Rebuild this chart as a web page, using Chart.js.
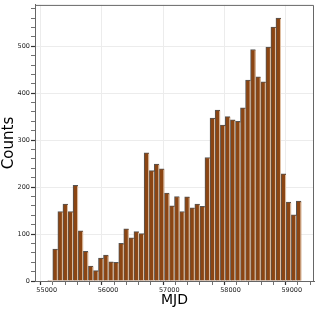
<!DOCTYPE html>
<html>
<head>
<meta charset="utf-8">
<script src="https://cdn.jsdelivr.net/npm/chart.js@4"></script>
<style>
  body { margin: 0; background: #fff; }
  #wrap { width: 317px; height: 311px; }
</style>
</head>
<body>
<div id="wrap"><canvas id="hist"></canvas></div>
<script>
// histogram bin centres (MJD) and counts
const binCenters = [
  55057, 55140, 55223, 55306, 55389, 55471, 55554, 55637, 55720, 55803,
  55886, 55968, 56051, 56134, 56217, 56299, 56382, 56465, 56548, 56631,
  56713, 56796, 56879, 56962, 57045, 57127, 57210, 57293, 57376, 57459,
  57541, 57624, 57707, 57790, 57873, 57955, 58038, 58121, 58204, 58287,
  58369, 58452, 58535, 58618, 58701, 58783, 58866, 58949, 59032, 59115
];
const counts = [
  1, 68, 148, 164, 148, 204, 107, 63, 32, 22,
  49, 55, 41, 40, 80, 111, 92, 105, 101, 273,
  235, 249, 239, 187, 160, 180, 148, 179, 156, 164,
  159, 263, 347, 364, 332, 350, 343, 340, 369, 428,
  493, 435, 424, 498, 541, 560, 228, 168, 141, 170
];
// tick positions: minor every 200 / 20, labelled every 1000 / 100
const xTicks = [];
for (let v = 55000; v <= 59200; v += 200) xTicks.push(v);
const yTicks = [];
for (let v = 0; v <= 580; v += 20) yTicks.push(v);

const FONT = "'DejaVu Sans', sans-serif";

// light seam on the right side of every bar + top/right spines
const extras = {
  id: "extras",
  afterDatasetsDraw(chart) {
    const ctx = chart.ctx;
    const meta = chart.getDatasetMeta(0);
    ctx.save();
    ctx.fillStyle = "rgba(240, 215, 190, 0.85)";
    meta.data.forEach((bar) => {
      const right = bar.x + bar.width / 2;
      ctx.fillRect(right - 1, bar.y + 1, 1, bar.base - bar.y - 1);
    });
    ctx.restore();
  },
  afterDraw(chart) {
    const { left, top, right, bottom } = chart.chartArea;
    const ctx = chart.ctx;
    ctx.save();
    ctx.strokeStyle = "#666";
    ctx.lineWidth = 1;
    ctx.beginPath();
    ctx.moveTo(left, top + 0.5);
    ctx.lineTo(right - 0.5, top + 0.5);
    ctx.lineTo(right - 0.5, bottom);
    ctx.stroke();
    ctx.restore();
  }
};

new Chart(document.getElementById("hist"), {
  type: "bar",
  data: {
    datasets: [{
      label: "Counts",
      data: binCenters.map((x, i) => ({ x: x, y: counts[i] })),
      backgroundColor: "#8B4513",
      borderColor: "#555",
      borderWidth: { top: 1, left: 1, right: 0, bottom: 0 },
      borderSkipped: false,
      barPercentage: 1,
      categoryPercentage: 1
    }]
  },
  options: {
    responsive: true,
    maintainAspectRatio: false,
    animation: false,
    layout: { padding: { top: 3, right: 3, left: 0, bottom: 0 } },
    plugins: { legend: { display: false }, tooltip: { enabled: false } },
    scales: {
      x: {
        type: "linear",
        offset: false,
        min: 54809,
        max: 59363,
        afterFit: (axis) => { axis.height = 30; },
        afterBuildTicks: (axis) => { axis.ticks = xTicks.map((v) => ({ value: v })); },
        ticks: {
          autoSkip: false,
          maxRotation: 0,
          padding: 1,
          color: "#222",
          font: { family: FONT, size: 6.5 },
          callback: (v) => (v % 1000 === 0 ? String(v) : "")
        },
        grid: {
          color: (c) => (c.tick && c.tick.value % 1000 === 0 ? "#ececec" : "rgba(0,0,0,0)"),
          tickColor: "#333",
          tickWidth: (c) => (c.tick && c.tick.value % 1000 === 0 ? 1.2 : 0.7),
          tickLength: 4
        },
        border: { color: "#666", width: 1 },
        title: {
          display: true,
          text: "MJD",
          color: "#000",
          font: { family: FONT, size: 14 },
          padding: { top: 0, bottom: 2 }
        }
      },
      y: {
        min: 0,
        max: 588,
        afterFit: (axis) => { axis.width = 35; },
        afterBuildTicks: (axis) => { axis.ticks = yTicks.map((v) => ({ value: v })); },
        ticks: {
          autoSkip: false,
          padding: 1,
          color: "#222",
          font: { family: FONT, size: 6.5 },
          callback: (v) => (v % 100 === 0 ? String(v) : "")
        },
        grid: {
          color: (c) => (c.tick && c.tick.value % 100 === 0 ? "#ececec" : "rgba(0,0,0,0)"),
          tickColor: "#333",
          tickWidth: (c) => (c.tick && c.tick.value % 100 === 0 ? 1.2 : 0.7),
          tickLength: 4
        },
        border: { color: "#666", width: 1 },
        title: {
          display: true,
          text: "Counts",
          color: "#000",
          font: { family: FONT, size: 15 },
          padding: { top: 0, bottom: 0 }
        }
      }
    }
  },
  plugins: [extras]
});
</script>
</body>
</html>
